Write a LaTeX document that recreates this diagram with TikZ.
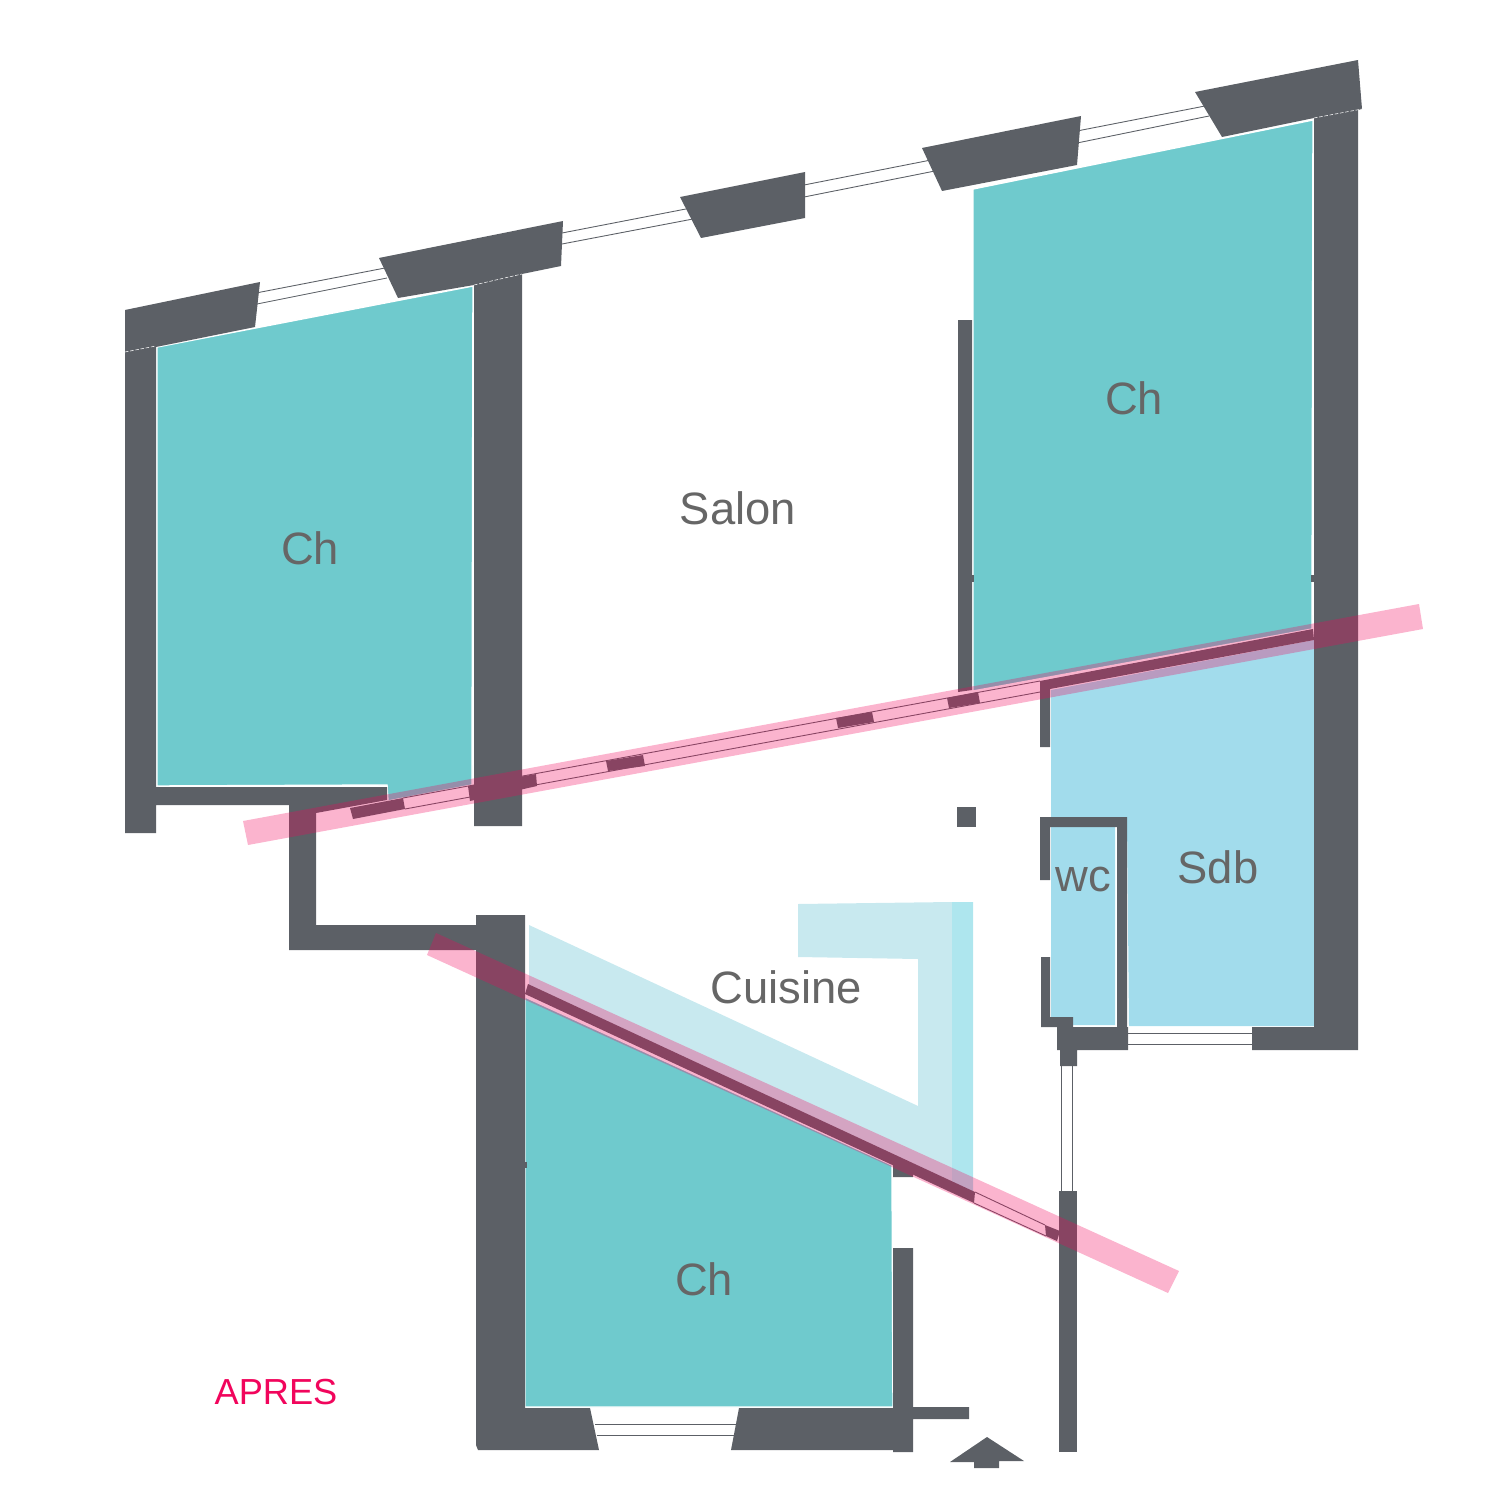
\documentclass[tikz,border=0pt]{standalone}
\usepackage{xcolor}
\usepackage{fontspec}
\setmainfont{Liberation Sans}
\definecolor{planwall}{RGB}{92, 96, 102}
\definecolor{planteal}{RGB}{111, 202, 205}
\definecolor{planblue}{RGB}{162, 220, 236}
\definecolor{planpale}{RGB}{200, 233, 239}
\definecolor{plancyan}{RGB}{174, 230, 238}
\definecolor{planpink}{RGB}{241, 5, 92}
\definecolor{plantext}{RGB}{102, 102, 102}
\tikzset{
  wall/.style={fill=planwall},
  room/.style={draw=white, line width=0.4pt, line join=miter},
  glass/.style={draw=planwall, line width=0.25pt},
  cut/.style={fill=planpink, fill opacity=0.3},
  joint/.style={draw=white, line width=0.15pt, dash pattern=on 1pt off 0.5pt},
  label/.style={text=plantext, inner sep=0pt, font=\fontsize{12.9}{15}\selectfont}
}
\begin{document}
\begin{tikzpicture}[x=0.01cm, y=-0.01cm]
\useasboundingbox (0,0) rectangle (1500,1500);

% Rooms
\fill[planteal, room] (157,347) -- (473,286) -- (472,785) -- (388,801) -- (387,785) -- (157,786) -- cycle;
\fill[planteal, room] (973,189) -- (1313,120) -- (1312,629) -- (973,691) -- cycle;
\fill[planteal, room] (525,997) -- (892,1165) -- (893,1407) -- (525,1407) -- cycle;
\fill[planblue] (1051,690) -- (1314,640) -- (1314,1026) -- (1129,1026) -- (1127,817) -- (1051,817) -- cycle;
\fill[planblue] (1051,827) -- (1115,827) -- (1115,1025) -- (1073,1025) -- (1073,1017) -- (1051,1017) -- cycle;

% Kitchen counter
\fill[planpale] (529,925) -- (918,1106) -- (918,959) -- (798,957) -- (798,904) -- (952,902) -- (952,1182) -- (529,985) -- cycle;
\fill[plancyan] (952,902) -- (973,902) -- (973,1192) -- (952,1182) -- cycle;

% Front wall, left part
\fill[wall] (125,310) -- (260,282) -- (255,327) -- (156,347) -- (156,787) -- (387,787) -- (387,800) -- (316,813) -- (316,925) -- (476,925) -- (476,915) -- (525,915) -- (525,1408) -- (590,1408) -- (599,1450) -- (478,1450) -- (476,1445) -- (476,950) -- (289,950) -- (289,805) -- (156,805) -- (156,833) -- (125,833) -- cycle;
\fill[wall] (379,258) -- (563,221) -- (561,266) -- (522,274) -- (522,826) -- (474,826) -- (474,285) -- (398,298) -- cycle;

% Front wall, piers
\fill[wall] (680,197) -- (805,172) -- (805,218) -- (701,238) -- cycle;
\fill[wall] (922,148) -- (1081,116) -- (1077,165) -- (942,191) -- cycle;
\fill[wall] (1195,92) -- (1358,60) -- (1362,109) -- (1358,110) -- (1358,1050) -- (1252,1050) -- (1252,1027) -- (1314,1027) -- (1314,118) -- (1222,137) -- cycle;

% Partitions
\fill[wall] (958,320) -- (972,320) -- (972,690) -- (958,692) -- cycle;
\fill[wall] (972,575) rectangle (974,582);
\fill[wall] (1311,575) rectangle (1314,582);
\fill[wall] (525,1162) rectangle (527,1168);
\fill[wall] (957,807) rectangle (976,827);
\fill[wall] (1040,681) -- (1313,629) -- (1314,640) -- (1050,689) -- (1050,747) -- (1040,747) -- cycle;

% WC
\fill[wall] (1040,817) -- (1127,817) -- (1127,1027) -- (1128,1027) -- (1128,1050) -- (1077,1050) -- (1077,1066) -- (1060,1066) -- (1060,1050) -- (1057,1050) -- (1057,1027) -- (1041,1027) -- (1041,957) -- (1050,957) -- (1050,1017) -- (1073,1017) -- (1073,1027) -- (1117,1027) -- (1117,827) -- (1050,827) -- (1050,880) -- (1040,880) -- cycle;

% Entrance
\fill[wall] (1059,1191) rectangle (1077,1452);
\fill[wall] (893,1248) -- (913,1248) -- (913,1407) -- (969,1407) -- (969,1419) -- (913,1419) -- (913,1452) -- (893,1452) -- (893,1450) -- (731,1450) -- (739,1408) -- (893,1408) -- cycle;
\fill[wall] (893,1163) -- (913,1172) -- (913,1177) -- (893,1177) -- cycle;
\fill[wall] (987,1437) -- (1024,1461) -- (999,1461) -- (999,1468) -- (974,1468) -- (974,1462) -- (950,1462) -- cycle;

% Slanted wall, bottom room
\fill[wall] (528,984) -- (975,1192) -- (974,1203) -- (525,994) -- cycle;
\fill[wall] (1045,1225) -- (1060,1231) -- (1057,1241) -- (1046,1236) -- cycle;

% Slanted wall, upper windows
\fill[wall] (350,808) -- (403,798) -- (405,809) -- (353,819) -- cycle;
\fill[wall] (468,786) -- (536,774) -- (537,786) -- (470,801) -- cycle;
\fill[wall] (606,761) -- (643,755) -- (645,766) -- (608,771) -- cycle;
\fill[wall] (836,718) -- (872,712) -- (874,722) -- (838,728) -- cycle;
\fill[wall] (947,698) -- (978,692) -- (980,703) -- (949,708) -- cycle;

% Windows
\draw[glass] (256,293) -- (385,268) (257,304) -- (387,278);
\draw[glass] (562,233) -- (691,208) (562,244) -- (693,219);
\draw[glass] (804,185) -- (931,160) (804,197) -- (935,171);
\draw[glass] (1077,131) -- (1205,106) (1077,143) -- (1209,116);
\draw[glass] (403,798) -- (1040,681) (405,809) -- (1040,692);
\draw[glass] (975,1192) -- (1045,1225) (974,1203) -- (1046,1236);
\draw[glass] (1128,1033) -- (1252,1033) (1128,1044) -- (1252,1044);
\draw[glass] (595,1424) -- (736,1424) (597,1435) -- (735,1435);
\draw[glass] (1061,1066) -- (1061,1191) (1072,1066) -- (1072,1191);

% Wall joints
\draw[joint] (125,352) -- (156,346);
\draw[joint] (474,285) -- (522,274);
\draw[joint] (1314,118) -- (1362,109);

% Section cuts
\fill[cut] (243,821) -- (1419,604) -- (1423,629) -- (248,845) -- cycle;
\fill[cut] (436,933) -- (1179,1271) -- (1168,1293) -- (427,955) -- cycle;

% Labels
\node[label] (chleft) at (310,548) {Ch};
\node[label] (salon) at (738,508) {Salon};
\node[label] (chright) at (1134,398) {Ch};
\node[label] (wc) at (1083,880) {wc};
\node[label] (sdb) at (1218,867) {Sdb};
\node[label] (cuisine) at (786,987) {Cuisine};
\node[label] (chbottom) at (704,1279) {Ch};
\node[inner sep=0pt, text=planpink, font=\fontsize{10.3}{12}\selectfont] (apres) at (276,1392) {APRES};
\end{tikzpicture}
\end{document}
